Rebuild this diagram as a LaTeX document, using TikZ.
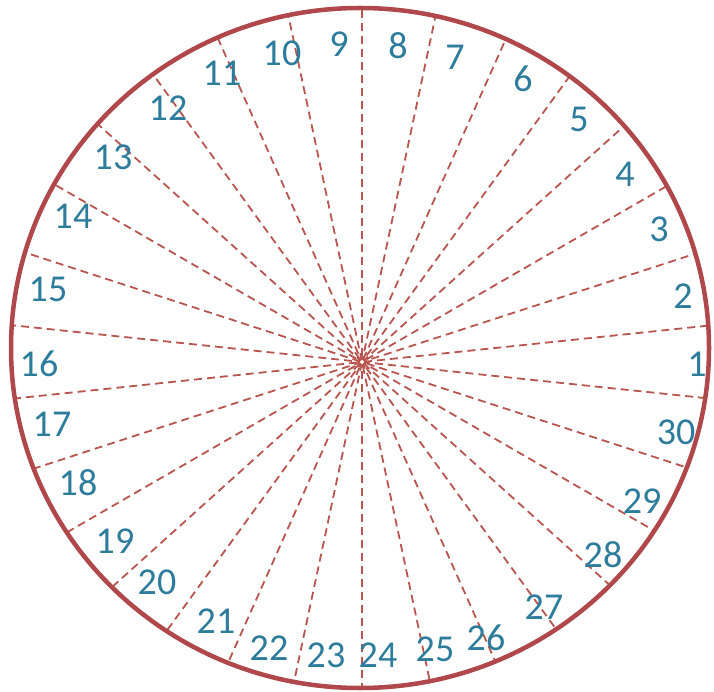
\documentclass[tikz,border=0pt]{standalone}
\usepackage{fontspec}
\setmainfont{Carlito}
\definecolor{rimred}{HTML}{B0474A}
\definecolor{spokered}{HTML}{B8554F}
\definecolor{labelblue}{HTML}{2E7C9C}
\begin{document}
\begin{tikzpicture}[x=1pt,y=-1pt,
  spoke/.style={draw=spokered, line width=1.8pt, dash pattern=on 8pt off 5pt},
  rim/.style={draw=rimred, line width=4.5pt},
  num/.style={text=labelblue, font=\fontsize{38}{38}\selectfont, inner sep=0pt}]
\useasboundingbox (0,0) rectangle (714,692);
\coordinate (c) at (362,362);
\begin{scope}
  \clip (360,348) ellipse [x radius=349, y radius=340];
  \foreach \k in {0,...,29} {
    \pgfmathsetmacro\a{-(6+12*\k)}
    \pgfmathsetmacro\ph{mod(\k*5,13)}
    \path (c) ++(\a:2) coordinate (s\k);
    \path (c) ++(\a:420) coordinate (e\k);
    \draw[spoke, dash phase=\ph pt] (s\k) -- (e\k);
  }
\end{scope}
\draw[rim] (360,348) ellipse [x radius=349, y radius=340];
\node[num] (n1) at (697,364) {1};
\node[num] (n2) at (683,296) {2};
\node[num] (n3) at (659,229) {3};
\node[num] (n4) at (625,174) {4};
\node[num] (n5) at (579,119) {5};
\node[num] (n6) at (523,79) {6};
\node[num] (n7) at (455,57) {7};
\node[num] (n8) at (398,46) {8};
\node[num] (n9) at (339,44) {9};
\node[num] (n10) at (282,53) {10};
\node[num] (n11) at (222,73) {11};
\node[num] (n12) at (168,108) {12};
\node[num] (n13) at (113,157) {13};
\node[num] (n14) at (73,216) {14};
\node[num] (n15) at (48,289) {15};
\node[num] (n16) at (39,364) {16};
\node[num] (n17) at (52,424) {17};
\node[num] (n18) at (78,483) {18};
\node[num] (n19) at (115,541) {19};
\node[num] (n20) at (157,582) {20};
\node[num] (n21) at (216,621) {21};
\node[num] (n22) at (269,648) {22};
\node[num] (n23) at (326,655) {23};
\node[num] (n24) at (378,655) {24};
\node[num] (n25) at (435,649) {25};
\node[num] (n26) at (486,638) {26};
\node[num] (n27) at (544,607) {27};
\node[num] (n28) at (603,555) {28};
\node[num] (n29) at (642,501) {29};
\node[num] (n30) at (676,432) {30};
\end{tikzpicture}
\end{document}
